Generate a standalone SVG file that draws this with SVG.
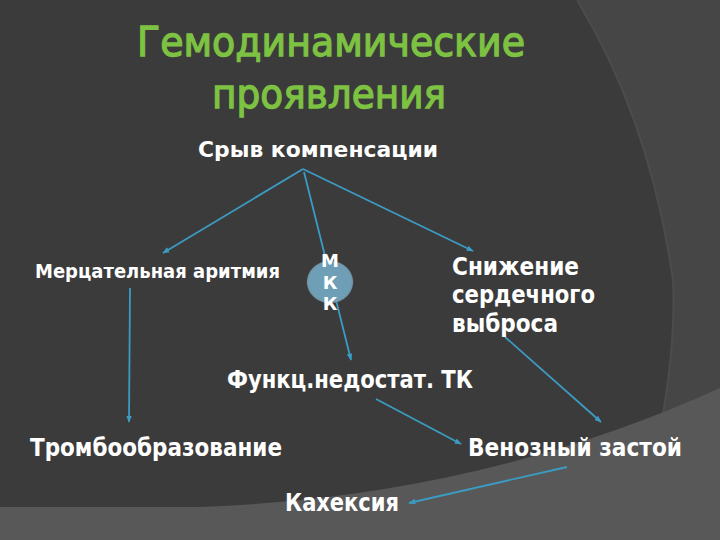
<svg xmlns="http://www.w3.org/2000/svg" width="720" height="540" viewBox="0 0 720 540">
<style>
.title{font-family:"DejaVu Sans","Liberation Sans",sans-serif;font-size:40px;fill:#7dc242;stroke:#7dc242;stroke-width:1.3}
.lbl{font-family:"DejaVu Sans","Liberation Sans",sans-serif;font-weight:bold;fill:#ffffff}
.con{stroke:#3c9bc3;stroke-width:1.8;fill:none;marker-end:url(#ah)}
</style>
<defs>
<marker id="ah" viewBox="0 0 10 10" refX="9" refY="5" markerWidth="7" markerHeight="7" markerUnits="userSpaceOnUse" orient="auto">
<path d="M0,1 L10,5 L0,9 Z" fill="#3c9bc3"/>
</marker>
<radialGradient id="mkk" cx="0.5" cy="0.5" r="0.5">
<stop offset="0" stop-color="#6e9fb6"/>
<stop offset="0.86" stop-color="#6e9fb6"/>
<stop offset="0.94" stop-color="#7faabd" stop-opacity="0.8"/>
<stop offset="1" stop-color="#3b3b3b" stop-opacity="0"/>
</radialGradient>
</defs>
<g id="background">
<rect x="0" y="0" width="720" height="540" fill="#3b3b3b"/>
<path d="M577,0 Q650,120 673,280 Q676,340 662,420 L720,420 L720,0 Z" fill="#464646"/>
<path d="M577,0 Q650,120 673,280 Q676,340 662,420" fill="none" stroke="#4c4c4c" stroke-width="2"/>
<path d="M0,507 L200,507 Q480,497 720,388 L720,540 L0,540 Z" fill="#585858"/>
</g>
<g id="title">
<text class="title" x="137" y="56" textLength="388" lengthAdjust="spacingAndGlyphs">Гемодинамические</text>
<text class="title" x="212" y="108" textLength="234" lengthAdjust="spacingAndGlyphs">проявления</text>
</g>
<g id="connectors">
<line class="con" x1="303" y1="169" x2="163" y2="253"/>
<line class="con" x1="304" y1="172" x2="351" y2="360"/>
<line class="con" x1="303" y1="169" x2="473" y2="251"/>
<line class="con" x1="130" y1="288" x2="129" y2="422"/>
<line class="con" x1="505" y1="337" x2="601" y2="422"/>
<line class="con" x1="376" y1="399" x2="461" y2="444"/>
<line class="con" x1="567" y1="467" x2="409" y2="503"/>
</g>
<g id="node-sryv">
<text class="lbl" x="198" y="157" font-size="21" textLength="240" lengthAdjust="spacingAndGlyphs">Срыв компенсации</text>
</g>
<g id="node-aritmia">
<text class="lbl" x="35" y="278" font-size="20" textLength="245" lengthAdjust="spacingAndGlyphs">Мерцательная аритмия</text>
</g>
<g id="node-mkk">
<ellipse cx="330" cy="282" rx="24" ry="22" fill="url(#mkk)"/>
<text class="lbl" x="330" y="267" font-size="18" text-anchor="middle">М</text>
<text class="lbl" x="330" y="289" font-size="18" text-anchor="middle">К</text>
<text class="lbl" x="330" y="310" font-size="18" text-anchor="middle">К</text>
</g>
<g id="node-snizhenie">
<text class="lbl" x="452" y="275" font-size="24" textLength="127" lengthAdjust="spacingAndGlyphs">Снижение</text>
<text class="lbl" x="452" y="303" font-size="24" textLength="143" lengthAdjust="spacingAndGlyphs">сердечного</text>
<text class="lbl" x="452" y="332" font-size="24" textLength="106" lengthAdjust="spacingAndGlyphs">выброса</text>
</g>
<g id="node-funkc">
<text class="lbl" x="227" y="388" font-size="24" textLength="246" lengthAdjust="spacingAndGlyphs">Функц.недостат. ТК</text>
</g>
<g id="node-tromb">
<text class="lbl" x="30" y="456" font-size="24" textLength="252" lengthAdjust="spacingAndGlyphs">Тромбообразование</text>
</g>
<g id="node-venoz">
<text class="lbl" x="468" y="456" font-size="24" textLength="214" lengthAdjust="spacingAndGlyphs">Венозный застой</text>
</g>
<g id="node-kaheksia">
<text class="lbl" x="285" y="511" font-size="24" textLength="114" lengthAdjust="spacingAndGlyphs">Кахексия</text>
</g>
</svg>
